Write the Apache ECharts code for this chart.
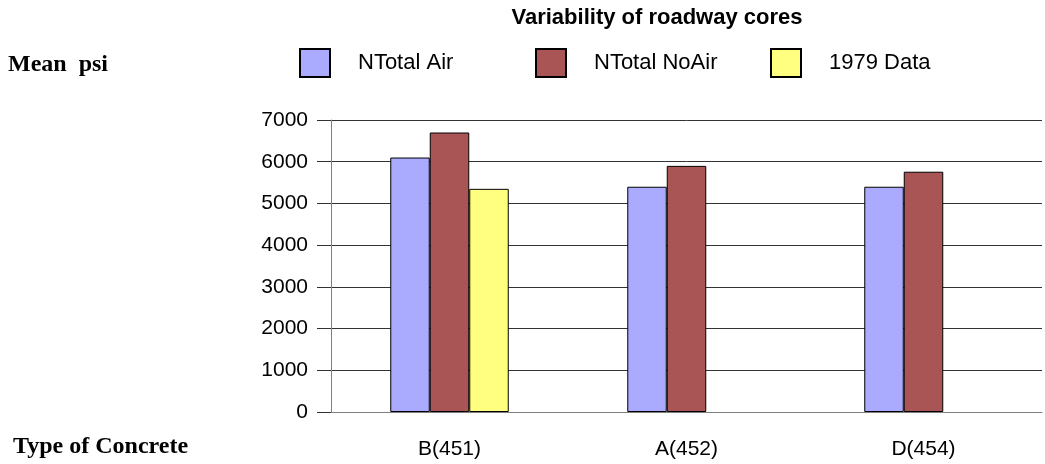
<!DOCTYPE html>
<html>
<head>
<meta charset="utf-8">
<script src="https://cdn.jsdelivr.net/npm/echarts@6/dist/echarts.min.js"></script>
<style>
  html, body { margin: 0; padding: 0; background: #fff; }
  #chart { width: 1045px; height: 464px; }
</style>
</head>
<body>
<div id="chart"></div>
<script>
// chart data
const categories = ['B(451)', 'A(452)', 'D(454)'];
const seriesNames = ['NTotal Air', 'NTotal NoAir', '1979 Data'];
const totalAir = [6100, 5400, 5400];
const totalNoAir = [6700, 5900, 5760];
const data1979 = [5350, '-', '-'];
const colors = ['#AAAAFF', '#AA5555', '#FFFF80'];

const chart = echarts.init(document.getElementById('chart'));

const sans = '"Liberation Sans", Arial, sans-serif';
const serif = '"Liberation Serif", "Times New Roman", serif';

// one legend per item so each can sit where the original puts it
const legendLefts = [299, 535, 770];
const legends = seriesNames.map((name, i) => ({
    data: [name],
    left: legendLefts[i],
    top: 48,
    padding: 0,
    itemWidth: 30,
    itemHeight: 28,
    icon: 'rect',
    selectedMode: false,
    textStyle: {
        fontFamily: sans,
        fontSize: 22,
        color: '#000',
        padding: [0, 0, 0, 23]
    }
}));

const barSeries = [totalAir, totalNoAir, data1979].map((vals, i) => ({
    name: seriesNames[i],
    type: 'bar',
    data: vals,
    barGap: '0%',
    barCategoryGap: '50%',
    itemStyle: {
        color: colors[i],
        borderColor: '#000',
        borderWidth: 1
    }
}));

const option = {
    animation: false,
    title: {
        text: 'Variability of roadway cores',
        left: 657,
        top: 7,
        padding: 0,
        textAlign: 'center',
        textStyle: {
            fontFamily: sans,
            fontSize: 22,
            fontWeight: 'bold',
            color: '#000'
        }
    },
    legend: legends,
    grid: { left: 331, right: 3, top: 120, bottom: 52 },
    xAxis: {
        type: 'category',
        data: categories,
        axisLine: { lineStyle: { color: '#808080', width: 1 } },
        axisTick: { alignWithLabel: true, length: 13, lineStyle: { color: '#000' } },
        axisLabel: { fontFamily: sans, fontSize: 21, color: '#000', margin: 27 }
    },
    yAxis: {
        type: 'value',
        min: 0,
        max: 7000,
        interval: 1000,
        axisLine: { show: true, lineStyle: { color: '#808080', width: 1 } },
        axisTick: { show: true, length: 14, lineStyle: { color: '#333' } },
        axisLabel: {
            fontFamily: sans,
            fontSize: 21,
            color: '#000',
            margin: 23,
            formatter: (v) => String(v)
        },
        splitLine: { lineStyle: { color: '#333', width: 1 } }
    },
    graphic: [
        {
            type: 'text',
            left: 8,
            top: 53,
            style: {
                text: 'Mean  psi',
                fontFamily: serif,
                fontSize: 24,
                fontWeight: 'bold',
                fill: '#000'
            }
        },
        {
            type: 'text',
            left: 13,
            top: 435,
            style: {
                text: 'Type of Concrete',
                fontFamily: serif,
                fontSize: 24,
                fontWeight: 'bold',
                fill: '#000'
            }
        }
    ],
    series: barSeries
};

chart.setOption(option);
</script>
</body>
</html>
